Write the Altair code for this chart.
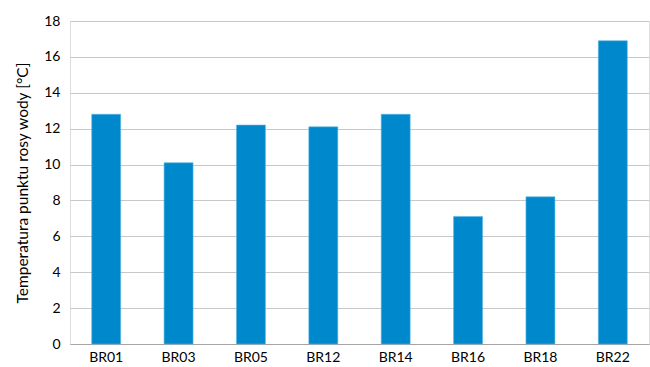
import altair as alt
import pandas as pd

# Dew point temperature per sample
samples = ["BR01", "BR03", "BR05", "BR12", "BR14", "BR16", "BR18", "BR22"]
dew_point = [12.8, 10.1, 12.2, 12.1, 12.8, 7.1, 8.2, 16.9]

df = pd.DataFrame({"probka": samples, "temp": dew_point})

FONT = "Lato"

chart = (
    alt.Chart(df)
    .mark_bar(color="#0088CC", stroke="#5BB5E3", strokeWidth=0.6)
    .encode(
        x=alt.X(
            "probka:N",
            sort=samples,
            title=None,
            scale=alt.Scale(paddingInner=0.6, paddingOuter=0.3),
            axis=alt.Axis(
                labelAngle=0,
                ticks=False,
                domainColor="#a6a6a6",
                domainWidth=1,
                labelPadding=6,
                labelFontSize=14,
                labelColor="#000000",
                labelFont=FONT,
            ),
        ),
        y=alt.Y(
            "temp:Q",
            title="Temperatura punktu rosy wody [°C]",
            scale=alt.Scale(domain=[0, 18], nice=False),
            axis=alt.Axis(
                values=list(range(0, 19, 2)),
                ticks=False,
                domain=False,
                gridColor="#c8c8c8",
                gridWidth=1,
                labelPadding=10,
                labelFontSize=14,
                labelColor="#000000",
                labelFont=FONT,
                titleFont=FONT,
                titleFontSize=15.5,
                titleFontWeight="normal",
                titleColor="#000000",
                titlePadding=13,
            ),
        ),
    )
    .properties(
        width=579,
        height=323,
        autosize=alt.AutoSizeParams(type="none"),
        padding={"left": 70, "top": 21, "right": 1, "bottom": 23},
    )
    .configure_view(stroke=None)
    .configure(background="#ffffff")
)

chart.save("out.html", embed_options={"renderer": "svg", "actions": False})
